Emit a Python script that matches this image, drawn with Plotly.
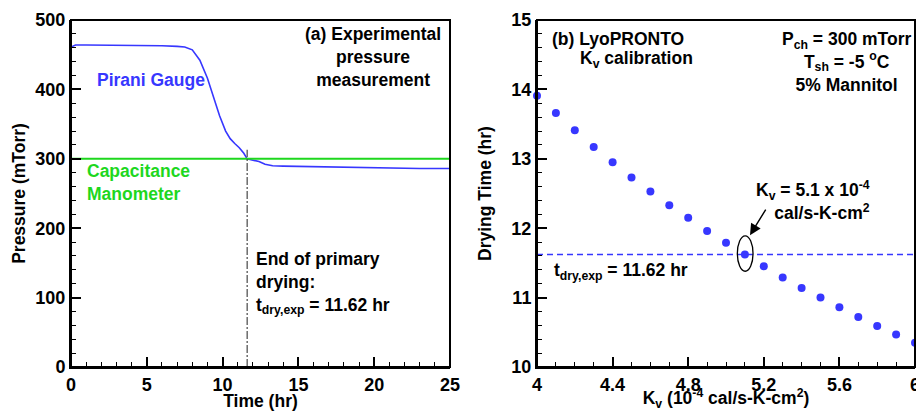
import plotly.graph_objects as go

# ---------------- data ----------------
# (a) experimental pressure measurement
time_hr = [0, 0.3, 1, 2, 3, 4, 5, 6, 7, 7.5, 8, 8.5, 9, 9.4, 9.8, 10.2, 10.5, 10.8,
           11.1, 11.4, 11.62, 12.0, 12.4, 12.8, 13.3, 14, 15, 16, 17, 18, 19, 20,
           21, 22, 23, 24, 25]
pirani_mtorr = [461, 464, 464, 464, 463.5, 463.5, 463, 463, 462, 461, 457, 442, 416,
                390, 362, 340, 329, 322, 316, 308, 300, 298, 296, 292, 290, 289.5,
                289, 289, 288.5, 288, 287.5, 287, 286.5, 286.5, 286, 286, 286]
cap_time = [0, 25]
cap_mtorr = [300, 300]
t_dry_exp = 11.62
end_line_top = 313

# (b) LyoPRONTO Kv calibration
kv = [4.0, 4.1, 4.2, 4.3, 4.4, 4.5, 4.6, 4.7, 4.8, 4.9, 5.0, 5.1, 5.2, 5.3, 5.4,
      5.5, 5.6, 5.7, 5.8, 5.9, 6.0]
drying_time_hr = [13.91, 13.66, 13.41, 13.17, 12.95, 12.73, 12.53, 12.33, 12.15,
                  11.96, 11.79, 11.62, 11.45, 11.29, 11.14, 11.00, 10.86, 10.72,
                  10.59, 10.47, 10.35]

# ---------------- styles ----------------
BLUE = "rgb(55,55,255)"
GREEN = "rgb(30,215,30)"
FONT = "Liberation Sans, Arial, sans-serif"
W, H = 916, 411

fig = go.Figure()

fig.add_trace(go.Scatter(x=time_hr, y=pirani_mtorr, mode="lines",
                         line=dict(color=BLUE, width=1.6), xaxis="x", yaxis="y",
                         showlegend=False, name="Pirani Gauge"))
fig.add_trace(go.Scatter(x=cap_time, y=cap_mtorr, mode="lines",
                         line=dict(color=GREEN, width=2), xaxis="x", yaxis="y",
                         showlegend=False, name="Capacitance Manometer"))
fig.add_trace(go.Scatter(x=[t_dry_exp, t_dry_exp], y=[0, end_line_top], mode="lines",
                         line=dict(color="rgb(70,70,70)", width=1.2,
                                   dash="8px,2px,2px,2px"),
                         xaxis="x", yaxis="y", showlegend=False))

fig.add_trace(go.Scatter(x=[kv[0], kv[-1]], y=[t_dry_exp, t_dry_exp], mode="lines",
                         line=dict(color=BLUE, width=1.5, dash="6px,4px"),
                         xaxis="x2", yaxis="y2", showlegend=False))
fig.add_trace(go.Scatter(x=kv, y=drying_time_hr, mode="markers",
                         marker=dict(color=BLUE, size=8), cliponaxis=False,
                         xaxis="x2", yaxis="y2", showlegend=False))

ytop = 1 - 20 / H
ybot = 1 - 367 / H

tickfont = dict(family=FONT, size=18, color="black", weight="bold")
titlefont = dict(family=FONT, size=17.5, color="black", weight="bold")


def axis_common(**kw):
    d = dict(showline=True, linewidth=2, linecolor="black", mirror=False,
             ticks="inside", ticklen=10, tickwidth=2, tickcolor="black",
             showgrid=False, zeroline=False,
             tickfont=tickfont, automargin=False, title_font=titlefont)
    d.update(kw)
    return d


def minor(dt):
    return dict(dtick=dt, ticks="inside", ticklen=5, tickwidth=1.4,
                tickcolor="black", showgrid=False)


fig.update_layout(
    template="none",
    width=W, height=H,
    margin=dict(l=0, r=0, t=0, b=0),
    paper_bgcolor="white", plot_bgcolor="white",
    font=dict(family=FONT, size=17.5, color="black", weight="bold"),
    xaxis=axis_common(domain=[71 / W, 450 / W], range=[0, 25], dtick=5, tick0=0,
                      anchor="y", minor=minor(1),
                      title=dict(text="Time (hr)")),
    yaxis=axis_common(domain=[ybot, ytop], range=[0, 500], dtick=100, tick0=0,
                      anchor="x", minor=minor(20),
                      title=dict(text="Pressure (mTorr)")),
    xaxis2=axis_common(domain=[537 / W, 915 / W], range=[4, 6], dtick=0.4, tick0=4,
                       anchor="y2", minor=minor(0.1), ticklabeloverflow="allow",
                       title=dict(text="K<sub>v</sub> (10<sup>-4</sup> cal/s-K-cm<sup>2</sup>)")),
    yaxis2=axis_common(domain=[ybot, ytop], range=[10, 15], dtick=1, tick0=10,
                       anchor="x2", minor=minor(0.2),
                       title=dict(text="Drying Time (hr)")),
)

ann = []


def add_text(text, x, y, xref, yref, xanchor="center", align="center", color="black",
             yanchor="middle"):
    ann.append(dict(text=text, x=x, y=y, xref=xref, yref=yref, showarrow=False,
                    xanchor=xanchor, yanchor=yanchor, align=align,
                    font=dict(family=FONT, size=17.5, color=color, weight="bold")))


# panel (a)
add_text("(a) Experimental<br>pressure<br>measurement", 19.9, 446, "x", "y")
add_text("Pirani Gauge", 1.55, 414, "x", "y", xanchor="left", color=BLUE)
add_text("Capacitance<br>Manometer", 0.95, 266, "x", "y", xanchor="left",
         align="left", color=GREEN)
add_text("End of primary<br>drying:<br>t<sub>dry,exp</sub> = 11.62 hr", 12.1, 121,
         "x", "y", xanchor="left", align="left")

# panel (b)
add_text("(b) LyoPRONTO", 4.07, 14.72, "x2", "y2", xanchor="left")
add_text("K<sub>v</sub> calibration", 4.215, 14.43, "x2", "y2", xanchor="left")
add_text("P<sub>ch</sub> = 300 mTorr<br>T<sub>sh</sub> = -5 <sup>o</sup>C<br>5% Mannitol",
         5.635, 14.40, "x2", "y2")
add_text("t<sub>dry,exp</sub> = 11.62 hr", 4.08, 11.38, "x2", "y2", xanchor="left")
add_text("K<sub>v</sub> = 5.1 x 10<sup>-4</sup><br>cal/s-K-cm<sup>2</sup>",
         5.775, 12.40, "x2", "y2", xanchor="right", align="right")

# arrow to the fitted point
ann.append(dict(x=5.127, y=11.90, ax=5.215, ay=12.29, xref="x2", yref="y2",
                axref="x2", ayref="y2", showarrow=True, arrowhead=2, arrowsize=1.6,
                arrowwidth=1.4, arrowcolor="black", text=""))

fig.update_layout(annotations=ann)

# frames around both panels (top and right edges)
for xr, yr in (("x domain", "y domain"), ("x2 domain", "y2 domain")):
    fig.add_shape(type="rect", xref=xr, yref=yr, x0=0, x1=1, y0=0, y1=1,
                  line=dict(color="black", width=2), fillcolor="rgba(0,0,0,0)",
                  layer="above")

# ellipse around the calibrated point
fig.add_shape(type="circle", xref="x2", yref="y2", x0=5.06, x1=5.143, y0=11.38,
              y1=11.89, line=dict(color="black", width=1.3))

fig.write_html("out.html")
